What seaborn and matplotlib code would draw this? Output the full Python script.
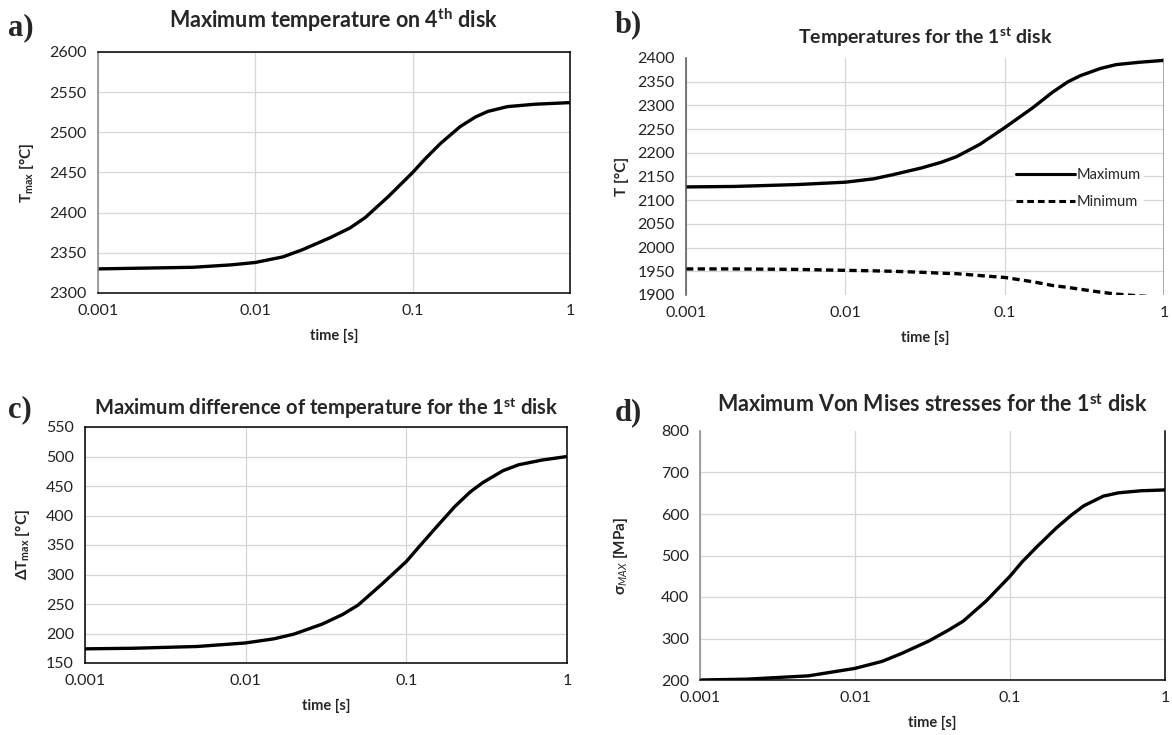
import numpy as np
import pandas as pd
import matplotlib
matplotlib.use("Agg")
import matplotlib.pyplot as plt
import seaborn as sns

# ---------------- data ----------------
t_a = [0.001, 0.002, 0.004, 0.007, 0.01, 0.015, 0.02, 0.03, 0.04, 0.05, 0.07, 0.1, 0.12, 0.15, 0.2, 0.25, 0.3, 0.4, 0.6, 1.0]
tmax_4th = [2330, 2331, 2332, 2335, 2338, 2345, 2354, 2369, 2381, 2394, 2420, 2450, 2467, 2486, 2507, 2519, 2526, 2532, 2535, 2537]

t_b = [0.001, 0.002, 0.005, 0.01, 0.015, 0.02, 0.03, 0.04, 0.05, 0.07, 0.1, 0.15, 0.2, 0.25, 0.3, 0.4, 0.5, 0.7, 1.0]
tmax_1st = [2128, 2129, 2133, 2138, 2145, 2154, 2168, 2180, 2192, 2218, 2253, 2295, 2328, 2350, 2363, 2378, 2386, 2391, 2395]
tmin_1st = [1955, 1955, 1954, 1952, 1951, 1950, 1948, 1946, 1945, 1941, 1937, 1928, 1920, 1916, 1912, 1906, 1902, 1898, 1895]

t_c = [0.001, 0.002, 0.005, 0.01, 0.015, 0.02, 0.03, 0.04, 0.05, 0.07, 0.1, 0.12, 0.15, 0.2, 0.25, 0.3, 0.4, 0.5, 0.7, 1.0]
dtmax_1st = [174, 175, 178, 184, 191, 199, 216, 232, 248, 283, 322, 347, 377, 415, 440, 456, 476, 486, 494, 500]

t_d = [0.001, 0.002, 0.005, 0.01, 0.015, 0.02, 0.03, 0.04, 0.05, 0.07, 0.1, 0.12, 0.15, 0.2, 0.25, 0.3, 0.4, 0.5, 0.7, 1.0]
sigma_1st = [200, 202, 210, 228, 245, 264, 294, 320, 342, 390, 450, 485, 522, 567, 598, 620, 643, 651, 656, 658]

xticks = [0.001, 0.01, 0.1, 1]
xticklabels = ["0.001", "0.01", "0.1", "1"]

# ---------------- style ----------------
sns.set_theme(style="white")
plt.rcParams['font.family'] = ['Lato', 'DejaVu Sans']
plt.rcParams['mathtext.fontset'] = 'custom'
plt.rcParams['mathtext.rm'] = 'Lato'
plt.rcParams['mathtext.it'] = 'Lato:italic'
plt.rcParams['mathtext.bf'] = 'Lato:bold'

W, H = 1172, 735
fig = plt.figure(figsize=(W / 100, H / 100), dpi=100)


def add_ax(l, t, r, b):
    return fig.add_axes([l / W, 1 - b / H, (r - l) / W, (b - t) / H])


GRID = "#d6d6d6"
TICKFS = 11.5


def style_ax(ax, ylim, ystep, spines):
    ax.set_xscale("log")
    ax.set_xlim(0.001, 1)
    ax.set_ylim(*ylim)
    ax.set_xticks(xticks)
    ax.set_xticklabels(xticklabels)
    ax.minorticks_off()
    ax.set_yticks(np.arange(ylim[0], ylim[1] + 1, ystep))
    ax.grid(True, color=GRID, linewidth=0.9)
    ax.tick_params(axis="both", labelsize=TICKFS, colors="#222222", length=0, pad=8)
    ax.tick_params(axis="y", length=4, color="#888888", direction="out", pad=4)
    for name, sp in ax.spines.items():
        if name in spines:
            sp.set_visible(True)
            sp.set_color(spines[name])
            sp.set_linewidth(1.1)
        else:
            sp.set_visible(False)
    ax.set_xlabel("time [s]", fontsize=10.5, fontweight="bold", labelpad=8)
    for lab in ax.get_xticklabels() + ax.get_yticklabels():
        lab.set_color("#222222")


LW = 2.4

# ---- a ----
ax = add_ax(98, 52, 570, 293)
sns.lineplot(x=t_a, y=tmax_4th, ax=ax, color="black", linewidth=LW)
style_ax(ax, (2300, 2600), 50, {"left": "#888888", "bottom": "black", "top": "black", "right": "black"})
ax.set_ylabel(r"$\mathbf{T_{max}}$ [°C]", fontsize=11, fontweight="bold", labelpad=10)
ax.set_title(r"Maximum temperature on 4$^{\mathbf{th}}$ disk", fontsize=15.5, fontweight="bold", pad=17)

# ---- b ----
ax = add_ax(686, 58, 1164, 295)
df_b = pd.DataFrame({
    "time": t_b * 2,
    "T": tmax_1st + tmin_1st,
    "kind": ["Maximum"] * len(t_b) + ["Minimum"] * len(t_b),
})
sns.lineplot(data=df_b, x="time", y="T", style="kind", ax=ax, color="black",
             linewidth=LW, dashes={"Maximum": "", "Minimum": (2.2, 1.3)})
style_ax(ax, (1900, 2400), 50, {"left": "#555555"})
ax.axvline(1, color="#999999", linewidth=1.2)
ax.yaxis.get_gridlines()[-1].set_visible(False)
ax.yaxis.get_gridlines()[0].set_visible(False)
ax.set_ylabel("T [°C]", fontsize=11, fontweight="bold", labelpad=6)
ax.set_title(r"Temperatures for the 1$^{\mathbf{st}}$ disk", fontsize=14, fontweight="bold", pad=10)
leg = ax.legend(loc="center left", bbox_to_anchor=(0.67, 0.45), frameon=True, fontsize=10.5,
                handlelength=4.0, handletextpad=0.1, labelspacing=0.9, borderpad=0.2,
                title=None)
leg.get_frame().set_facecolor("white")
leg.get_frame().set_edgecolor("white")
for line in leg.get_lines():
    line.set_linewidth(2.2)

# ---- c ----
ax = add_ax(85, 427, 567, 663)
sns.lineplot(x=t_c, y=dtmax_1st, ax=ax, color="black", linewidth=LW)
style_ax(ax, (150, 550), 50, {"left": "black", "bottom": "black", "top": "black", "right": "black"})
ax.set_ylabel(r"$\mathbf{\Delta T_{max}}$ [°C]", fontsize=11, fontweight="bold", labelpad=10)
ax.set_title(r"Maximum difference of temperature for the 1$^{\mathbf{st}}$ disk", fontsize=14.5,
             fontweight="bold", pad=9)

# ---- d ----
ax = add_ax(700, 431, 1165, 680)
sns.lineplot(x=t_d, y=sigma_1st, ax=ax, color="black", linewidth=LW)
style_ax(ax, (200, 800), 100, {"left": "#888888", "bottom": "black", "right": "black"})
ax.yaxis.get_gridlines()[-1].set_visible(False)
ax.set_ylabel(r"$\mathbf{\sigma}_{MAX}$ [MPa]", fontsize=11, fontweight="bold", labelpad=22)
ax.set_title(r"Maximum Von Mises stresses for the 1$^{\mathbf{st}}$ disk", fontsize=15.5,
             fontweight="bold", pad=14)

# ---- panel letters ----
for lbl, x, y in [("a)", 8, 28), ("b)", 615, 25), ("c)", 8, 410), ("d)", 615, 413)]:
    fig.text(x / W, 1 - y / H, lbl, fontsize=22, fontweight="bold", family="Liberation Serif",
             va="center", ha="left")

fig.savefig("out.png", dpi=100)
